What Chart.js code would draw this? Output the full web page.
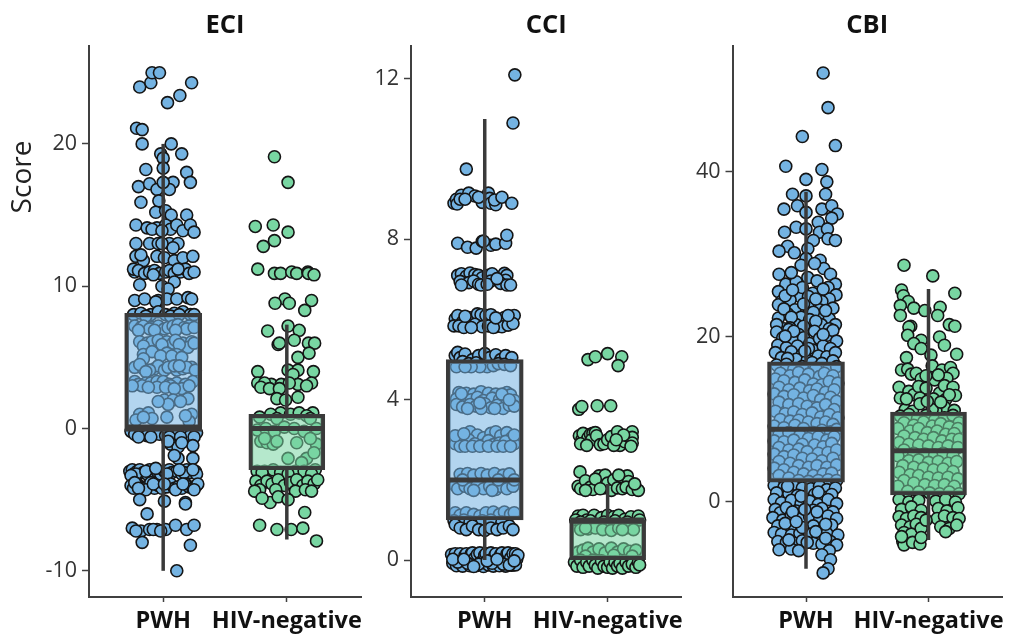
<!DOCTYPE html>
<html><head><meta charset="utf-8">
<script src="https://cdn.jsdelivr.net/npm/chart.js@4/dist/chart.umd.js"></script>
<style>html,body{margin:0;padding:0;background:#fff;width:1011px;height:637px;overflow:hidden}canvas{position:absolute;top:0}</style>
</head><body>
<canvas id="c1" style="left:0" width="370" height="637"></canvas>
<canvas id="c2" style="left:370px" width="320" height="637"></canvas>
<canvas id="c3" style="left:690px" width="321" height="637"></canvas>
<script>
const categories=["PWH","HIV-negative"];
const panelTitles=["ECI","CCI","CBI"];
const yAxisTitle="Score";
const eciTicks=[-10,0,10,20];
const cciTicks=[0,4,8,12];
const cbiTicks=[0,20,40];
// box statistics: low whisker, q1, median, q3, high whisker
const eciBoxPWH=[-10,-0.2,0.1,8.1,20];
const eciBoxNeg=[-7.8,-2.9,0,1,7.3];
const cciBoxPWH=[0,1,2,5,11];
const cciBoxNeg=[0,0,1,1,1.9];
const cbiBoxPWH=[-8.1,2.4,8.8,17,37.6];
const cbiBoxNeg=[-4.6,0.85,6.2,10.9,25.8];
// points: [horizontal jitter, score]
const eciPWH=[[-19,24],[-10,24.3],[-9,25],[-3,25],[23,24.3],[13.5,23.4],[3.5,22.9],[-21.5,21.1],[-17,21],[-17,20],[6.5,20],[15,19.3],[-2,19.3],[0,19],[-14,18.2],[0,18.3],[19,18],[22,17.3],[-20,17],[-11,17.2],[8,17.3],[5,16.8],[-5,16.8],[0,17.3],[-18,15.9],[-3.5,16],[-6,15.2],[2,15.3],[6.5,15],[19,15],
[-22,14.3],[-13,14.1],[-5,14.1],[2,14.3],[6,14],[11,14.3],[16,13.9],[22,14.3],[25,13.8],[-9,14],[-1,13.9],
[-22,13],[-11,13],[-4,13],[5,13],[12,13],[8,12.7],[-1,13],
[-22,12.1],[-16,11.8],[-5,12.1],[1,12],[9,11.8],[16,12],[24,12.1],[-18,12.2],
[-23,11],[-24,11.2],[-20,11.1],[-15,10.9],[-11,11],[-7,11.1],[-3,10.9],[2,11],[5,11.1],[9,10.9],[14,11],[18,11.2],[21,10.9],[25,11],[-8,10.8],[12,11.2],
[-19,10.1],[9,10.3],[-1,10],[4,9.8],
[-23,9],[-15,9.1],[-4,9],[3,9.1],[11,9.1],[20,9.2],[23,9.1],[-6,8.9],
[-24,8],[-18,8.1],[-10,8],[-4,8.2],[2,8],[9,8.1],[16,8.2],[22,8],[-14,7.9],[6,7.9],[13,8],[25,8],
[-23,7.2],[-18,7.1],[-16,7.2],[-9,7.1],[-4,7.2],[1,7],[4,7.1],[8,7.2],[12,7.3],[17,7.1],[21,7.2],[-11,7],[19,7],[25,7.1],[-20,6.9],[-7,6.9],[10,6.9],
[-19,6.1],[-13,6],[-9,6.1],[-4,6.2],[3,6.1],[8,6],[16,6],[23,6.1],[-16,5.8],[20,5.7],[10,6.2],[25,6],[-1,5.9],[13,5.9],
[-16,5.2],[3,5.3],[11,5.2],[-9,5.4],[-2,5.1],[-16,4.9],[7,5.1],[15,5],
[-23,4.3],[-16,4.2],[-7,4.2],[-4,4.4],[1,4.1],[4,4.3],[11,4.1],[16,4.2],[23,4.3],[-11,4.1],[-19,4.5],[9,4.4],[19,4.3],[-14,4],[13,4.4],[26,4.1],
[-23,3.3],[-20,3.1],[-14,3.2],[-10,3.2],[-5,3.3],[0,3.3],[5,3.1],[11,3.2],[24,3.3],[-17,3],[6,3],[18,3.1],[-5,2.9],[15,2.8],[21,3],[-25,3],[-12,2.9],[2,2.9],[9,2.8],
[1,2],[8,2],[20,2.1],[4,1.7],[-4,1.9],[14,1.9],
[-19,1],[-12,1.1],[3,0.8],[23,1],[-22,0.6],[-9,0.7],[21,0.5],[-16,0.8],[18,0.9],
[-26,-0.2],[-23,-0.4],[-18,-0.3],[-13,-0.5],[-8,-0.3],[-3,-0.4],[2,-0.5],[7,-0.3],[12,-0.4],[17,-0.3],[22,-0.5],[27,-0.3],[-20,-0.6],[-10,-0.6],[5,-0.6],[14,-0.6],[25,-0.6],
[6,-1.1],[12,-1.3],[24,-1.2],[4,-0.9],[15,-1],
[12,-2.1],[24,-2.1],[9,-1.9],
[-27,-3],[-25,-2.9],[-24,-3.2],[-21,-3],[-19,-2.9],[-16,-3.1],[-13,-3.2],[-11,-2.9],[-8,-3.1],[-5,-3],[-2,-3.2],[1,-3],[5,-2.9],[7,-3.1],[11,-3],[15,-3.2],[19,-2.9],[22,-3.1],[26,-3],[27,-3.2],[-22,-3.2],[3,-3.2],[17,-3.1],[-26,-3.3],[-14,-3],[-6,-2.8],[13,-2.9],[24,-2.9],
[-26,-4],[-24,-4.2],[-21,-3.9],[-18,-4.1],[-16,-4.2],[-12,-4],[-10,-3.8],[-7,-4.2],[-4,-4],[-1,-4.2],[3,-4.1],[6,-3.9],[9,-4.2],[12,-4.1],[15,-4.2],[18,-3.9],[21,-4.1],[24,-4.2],[27,-4],[28,-3.9],[-14,-4.3],[10,-4.3],[-23,-3.8],[-20,-4.2],[-8,-3.9],[1,-3.9],[16,-3.9],[25,-4.3],
[-19,-5],[1,-5.1],[18,-5.2],[18,-5.3],
[-13,-6],
[-25,-7],[-18,-7.2],[-11,-7.1],[-5,-7.1],[2,-7.1],[10,-6.8],[19,-7.1],[25,-6.8],[-22,-7.2],[-8,-7.1],[-2,-7.2],
[-17,-8],[22,-8.2],
[11,-10]];
const eciNeg=[[-10,19.1],[1,17.3],[-25.5,14.2],[-11,14.3],[1,13.8],[-10,13.2],[-19,12.8],[-23.5,11.2],[-10,10.9],[-5,10.9],[4,11],[8,10.9],[17,11],[17.5,10.9],[22,10.8],[-1.5,9.1],[-9.5,8.8],[2,8.8],[20,9],[14.5,8.3],
[-15.5,6.85],[1,7.2],[10,6.9],[6,6.2],[-7,5.9],[-6,6],[17.5,6],[22.5,6],[9,5],[18,5.3],
[-23.5,4],[1,4.1],[9,4.1],[5,3.8],[21.5,4],[-23.5,3.2],[-12.5,3.1],[-4.5,3.1],[9,3.1],[20,3.2],[-18,3.2],[2,3.2],[-21,2.9],[-14,2.8],[-6,2.8],[16,3],[-8,2.1],[9,2.2],[-1,2],
[-5,1.1],[3,1],[10,1.1],[21,1.1],[16,0.9],[-13,1],[-22,0.8],[-8,0.7],[19,0.7],
[-24,-0.1],[-17,0],[-10,-0.2],[-2,0.1],[6,0],[14,-0.2],[24,0],
[-21,-0.9],[-16,-1],[-11,-1.1],[8,-1],[24,-1.1],[-18,-0.7],[-8,-0.9],[19,-0.7],
[1,-2.1],[16,-2.1],[12,-2.4],[22,-1.7],
[-24,-3],[-18,-3],[-11,-2.9],[-5,-3.1],[7,-3],[14,-3],[23,-2.9],[-20,-3.1],[1,-3.2],[20,-3.2],
[-25,-3.7],[-21,-4],[-16,-3.7],[-12,-3.9],[-7,-3.6],[-2,-4],[3,-3.8],[8,-3.6],[13,-4],[17,-3.7],[22,-3.9],[25,-3.6],[-22,-4.3],[-9,-4.3],[7,-4.4],[15,-4.3],[20,-4.4],[-26,-4.4],
[-13.5,-5.2],[-7,-4.8],[1,-5],[-20,-4.9],[14.5,-5.9],[-22,-6.8],[-8,-7.1],[3.5,-7.1],[13,-7],[24,-7.9]];
const cciPWH=[[24.5,12.1],[23,10.9],[-15,9.75],
[-25,8.9],[-23,9],[-22.5,8.88],[-19,9.1],[-13,9.15],[-8,9.08],[-2,8.92],[3,9.15],[4,9.02],[5,8.9],[9,8.86],[8,8.98],[14,9.05],[22,8.9],[-20,9],[-16,9],[-5,9.05],
[-22,7.9],[-14,7.8],[-7,7.78],[-2,7.95],[5,7.85],[9,7.88],[17,7.9],[18,8.1],[-1,7.95],
[-22,7.1],[-19,7.14],[-15,7.08],[-12,7.16],[-8,7.12],[-5,7.1],[-2,7.04],[3,7.1],[6,7.14],[5,6.96],[16,7.15],[18,7.1],[17,6.98],[-20,6.95],[-13,6.92],[-9,6.96],[-5,6.88],[-3,6.86],[2,6.88],[13,6.9],[18,6.86],[21,6.86],[-19,6.86],[10,7.02],
[-24,6.02],[-22,6.1],[-18,5.94],[-13,6.05],[-9,5.98],[-6,6.14],[-3,6.12],[1,6.1],[5,6.12],[12,5.95],[16,6.05],[22,6],[24,6.1],[-25,5.84],[-21,5.84],[-14,5.86],[-8,5.88],[-2,5.82],[3,5.84],[9,5.82],[14,5.82],[19,5.86],[23,5.9],[-17,5.8],[-11,5.8],[7,5.8],[-16,6.08],[9,6.04],[19,6.1],
[-24,5.1],[-22,5.18],[-20,5.05],[-16,5.14],[-10,5],[-5,5.1],[0,5.15],[4,5.05],[9,5.12],[13,5],[17,5.1],[22,5.05],[-18,4.95],[-13,4.9],[-7,4.92],[-2,4.85],[2,4.82],[7,4.85],[11,4.9],[16,4.88],[21,4.85],[-23,4.82],[-4,4.82],[-11,4.82],[-16,4.82],
[-21,4.18],[-15,4.16],[-9,4.14],[-3,4.2],[3,4.16],[9,4.14],[18,4.18],[21,4.12],[-23,4.02],[-17,4.04],[-11,4],[-6,4.06],[-1,3.98],[6,4.04],[12,4],[16,4.03],[24,3.98],[-23,3.88],[-18,3.82],[-12,3.88],[-7,3.84],[0,3.9],[5,3.8],[10,3.86],[15,3.78],[20,3.86],[-14,3.78],[-3,3.78],[8,3.78],[24,3.84],[-19,4.15],[14,4.14],[20,4],[-4,3.92],
[-23,3.05],[-12,3.2],[-6,3.12],[-1,3.05],[5,3.16],[9,3.2],[13,3.1],[18,3.18],[22,3.05],[-24,2.9],[-18,2.98],[-13,3],[-8,2.9],[-2,2.86],[3,2.98],[7,2.88],[12,2.92],[17,2.96],[24,2.9],[-20,2.84],[-16,2.84],[-10,2.84],[-4,2.84],[3,2.84],[10,2.84],[15,2.84],[21,2.84],[-24,3.1],[-17,3.15],[24,3.12],
[-20,2.14],[-14,2.16],[-9,2.12],[-3,2.16],[2,2.12],[8,2.16],[15,2.12],[20,2.15],[-24,1.86],[-22,1.78],[-16,1.84],[-12,1.78],[-6,1.88],[-1,1.78],[4,1.84],[9,1.76],[13,1.84],[18,1.78],[23,1.84],[-9,1.74],[6,1.74],[-18,2],[11,2],[24,2],
[-24,1.18],[-20,1.12],[-15,1.18],[-9,1.14],[-4,1.1],[1,1.18],[7,1.2],[12,1.14],[16,1.2],[21,1.14],[24,1.18],[-25,0.98],[-17,1],[-12,0.95],[-2,0.98],[5,1],[14,0.95],[-24,0.88],[-20,0.8],[-15,0.76],[-10,0.85],[-5,0.76],[0,0.74],[5,0.8],[10,0.76],[15,0.8],[20,0.85],[23,0.76],
[-27,0.14],[-25,0.05],[-26,-0.08],[-24,0.16],[-23,-0.14],[-21,0.08],[-20,0.16],[-19,-0.05],[-18,-0.15],[-16,0.12],[-15,0.16],[-13,0],[-12,-0.14],[-11,0.16],[-10,0.18],[-8,0.05],[-7,-0.14],[-6,0.14],[-4,0.18],[-3,-0.05],[-1,-0.16],[0,0.12],[1,0.16],[3,-0.12],[4,0.05],[5,0.18],[7,-0.15],[8,0.1],[9,0.16],[11,-0.05],[12,-0.14],[13,0.14],[14,0.18],[16,0],[17,-0.15],[18,0.15],[19,0.18],[21,0.05],[22,-0.13],[23,0.16],[25,0.16],[26,0.02],[27,0.12],[25,-0.12],[-22,-0.05],[-14,-0.08],[-5,-0.1],[6,-0.08],[15,-0.1],[20,-0.12],[-26,0.02],[-17,0.02],[-9,-0.16],[2,-0.02],[10,0.02],[24,-0.02]];
const cciNeg=[[-16,5],[-10,5.07],[0,5.15],[11.5,5.07],[8.5,4.85],[-23.5,3.76],[-21,3.83],[-8.5,3.85],[2.5,3.85],
[-23,3.1],[-21,3],[-20,3.16],[-18,2.95],[-16,3.05],[-14,3.14],[-12,3.16],[-13,3],[-10,3.18],[-9,3.1],[-6,2.88],[-3,2.9],[0,3],[3,3.08],[8,3.2],[9,2.92],[10,2.86],[14,2.95],[16,3.1],[20,3.2],[20,3.06],[20,2.92],[13,3.12],[5,2.86],[19,2.84],[-22,2.9],[-17,2.86],[7,3],
[-22.5,2.2],[-24,1.84],[-22,1.78],[-18,1.98],[-14,1.82],[-12,1.76],[-7,2.1],[-5,2],[-3,1.8],[-2,2.12],[0,1.92],[3,1.74],[5,2],[8,1.8],[11,2.08],[12,1.78],[16,2.1],[17,1.96],[15,1.82],[20,1.76],[25,1.74],[-18,1.74],[-10,2.02],[-6,1.78],[9,2.12],[22,1.9],
[-24,1.1],[-20,1.12],[-17,1],[-11,1.12],[-5,1.06],[0,1.12],[5,1.08],[9,1.12],[14,1.02],[19,1.08],[25,1.1],[26,1],[-26,1],[-22,0.95],[-14,0.98],[-3,0.95],[6,0.98],[16,0.95],
[-22,0.76],[-16,0.78],[-10,0.8],[-4,0.76],[3,0.74],[9,0.8],[15,0.8],[21,0.76],[-18,0.8],[12,0.76],
[-24,0.2],[-20,0.25],[-16,0.3],[-12,0.2],[-7,0.28],[-2,0.18],[3,0.3],[8,0.2],[13,0.28],[18,0.22],[23,0.25],[-18,0.1],[5,0.12],[20,0.1],
[-27,-0.05],[-25,-0.15],[-22,0],[-20,-0.18],[-17,-0.05],[-15,-0.15],[-12,0],[-10,-0.12],[-8,-0.2],[-5,-0.02],[-3,-0.15],[0,-0.18],[2,-0.05],[4,-0.2],[6,-0.05],[8,-0.15],[10,-0.08],[12,-0.2],[15,-0.05],[17,-0.15],[20,-0.1],[23,-0.18],[25,-0.05],[26,-0.12]];
const cbiPWH=[[14,52],[18,47.8],[-3,44.3],[24,43.2],[-16.5,40.7],[13,40.3],[0,39.1],[17,38.8],[-11,37.3],[0,37.1],[16,37.3],[-7,35.9],[-18,35.5],[0,35.1],[13,35.5],[21,35.9],[25.5,34.9],[21,34.4],[10,33.9],[-8,33.3],[0,33.1],[-17.5,32.7],[11,32.7],[17.5,33.1],[6,31.7],[18,31.9],[24,31.7],[-15,31],[-22,30.4],[-9.5,30.2],[1.5,30.7],[0,29.5],[11.5,29.3],[-4,28.7],[14.5,28.3],[7,28.9],[-22,27.6],[20,27.6],[1.5,27.2],[-16.5,26.4],[-8,26.7],[24,26.4],[18,26],[-22.5,25.5],[5.5,25.3],[24.5,25.1],[-20,24.3],[-5,24.9],[19,24.6],[13,24.3],[-22.5,23.9],[-13,24.5],[22,23.5],[-9,23.3],[1.5,23.7],[11,23.3],[-15,22.8],[-22.5,22.3],[12.5,22.5],[-4,22.4],[19,22.2],[-18,21],[-8,21.5],[12.5,21.5],[24,21.5],[4,21],
[-12,27.8],[-3,26],[9,26.8],[14,25.8],[-17,25],[-11,25.7],[2,24.9],[8,24.6],[-2,24],[-18,23.4],[6,23],[16,23.2],[-12,22.4],[3,22.1],[8,21.9],[-24,21.5],[-13,21.1],[-2,21.3],[19,21],
[-24,20.6],[-14,20.9],[-6,20.3],[7,20.7],[17,20.2],[22,20.8],[-19,19.9],[-11,19.6],[-2,19.9],[3,19.2],[11,19.8],[25,19.5],[-23,19],[-16,18.7],[-7,18.9],[6,18.4],[14,18.9],[20,18.6],[-25,18.1],[-12,18.2],[-3,17.9],[10,17.7],[17,17.6],[24,18.1],[-20,17.5],[-8,17.3],[1,17.2],[5,16.9],[13,16.8],[22,17.1],[-15,17.4],[2,18.6],[-10,20.7],[14,20.3],[-17,20.1],[-1,18.3],
[-24,16.6],[-16,16.7],[-10,16.1],[-3,16.4],[8,16.2],[18,16],[25,16.4],[-21,15.6],[-13,15.3],[-6,15.7],[2,15.5],[11,15.2],[15,15.6],[22,15.3],[-25,14.9],[-18,14.7],[-9,14.5],[-1,14.8],[6,14.3],[13,14.2],[19,14.6],[26,14.4],[-22,13.9],[-14,13.6],[-5,13.8],[3,13.5],[9,13.7],[16,13.3],[23,13.6],[-26,13.1],[-18,12.8],[-10,13],[-2,12.6],[6,12.9],[12,12.4],[20,12.7],[25,12.2],[-22,12.1],[-14,11.8],[-6,11.9],[1,11.6],[9,11.4],[16,11.8],[23,11.2],[-25,11],[-17,10.7],[-10,10.9],[-3,10.6],[5,10.8],[12,10.3],[19,10.6],[26,10.2],[-21,10],[-13,9.8],[-6,9.9],[2,9.7],[9,9.5],[16,9.7],[22,9.4],[-26,9.2],[-18,9],[-9,9.3],[-2,8.9],[6,8.4],[13,8.7],[20,8.5],[25,8.8],[-22,8.2],[-14,8.4],[-5,8.1],[2,7.7],[10,7.9],[17,7.5],[23,7.9],[-26,7.4],[-18,7.3],[-10,7.5],[-3,7],[7,6.9],[14,6.7],[21,7.1],[-22,6.6],[-14,6.3],[-6,6.4],[1,6.1],[10,5.9],[18,6],[25,6.3],[-26,5.8],[-18,5.5],[-10,5.7],[-3,5.3],[5,5.2],[13,5],[22,5.3],[-22,4.9],[-13,4.7],[-6,4.4],[2,4.2],[9,4.4],[17,4.2],[25,4.5],[-26,4.1],[-18,3.9],[-10,3.6],[-2,3.4],[6,3.2],[14,3.4],[21,3.5],[-22,3.2],[-14,2.9],[-6,2.6],[2,2.5],[10,2.6],[18,2.7],[25,2.6],
[-26,2],[-18,1.8],[-10,1.9],[-3,1.7],[4,1.6],[11,1.9],[17,1.5],[24,1.7],[-24,1.1],[-14,1],[-7,0.8],[7,0.9],[14,0.6],[21,0.9],[-26,0.3],[-20,-0.1],[-12,0.2],[-4,-0.2],[3,0.1],[10,-0.3],[18,0.3],[25,-0.2],[-25,-0.9],[-21,-1.3],[-16,-0.7],[-8,-1.1],[6,-1],[13,-0.8],[22,-1.2],[-27,-1.9],[-19,-2.2],[-12,-1.6],[-5,-2.1],[3,-1.8],[11,-2.2],[18,-1.7],[25,-2],[-23,-2.9],[-15,-3],[-9,-3.2],[6,-2.9],[14,-3.3],[21,-2.8],[-26,-3.7],[-20,-3.9],[-12,-4],[-5,-3.8],[3,-3.9],[10,-4.2],[17,-3.8],[26,-4],[-23,-4.8],[-16,-4.9],[-9,-5],[-3,-4.7],[6,-5],[13,-5.1],[20,-4.8],[25,-5.2],[-22,-5.8],[-12,-5.7],[-6,-5.9],[19,-5.9],[13,-6.4],[20,-7],[18,-8.1],[14,-8.6],
[-15,1.9],[-4,0.7],[10,1.2],[-17,-2.6],[-3,-3.1],[9,-1.2],[-11,-1.2],[-1,-0.9],[16,-2.7],[-8,-2.4],[8,-3.6],[-14,-4.6],[16,-4.4],[1,-4.9]];
const cbiNeg=[[-20,28.7],[3.5,27.4],[21.5,25.3],[-22,25.7],[-20.5,25],[-16.5,24.3],[-23,23.8],[-12,23.5],[-3,23.2],[9.5,23.6],[-23,22.6],[7.5,22.6],[-14.5,21.3],[17,21.5],[21.5,21.3],
[-16,21.2],[-17,20.2],[-6,19.6],[-12,19.2],[-6,18.6],[9,20],[13,19],[-18,17.5],[23,17.9],[2,17.8],[-22,16],[-17,16.1],[-14,15.5],[-10,15.6],[-6,14.9],[3,16.5],[11,16],[18,16.3],[5,14.8],[20,15.6],[15,15],[8,15.4],[-2,15.3],
[-24,13.9],[-16,13.4],[-12,13],[-8,14],[-2,13.8],[9,13.2],[13,14.1],[20,13.9],[-23,12.6],[-7,12.6],[4,12.5],[14,12.4],[22,12.9],[-19,11.2],[-13,11],[13,11.5],[21,11.1],[6,11.1],[-7,11.9],[3,11.2],[-18,12.5],[-1,12.2],[17,13],[10,12.1],
[-23,10.4],[-16,10.6],[-9,10.1],[-2,10.5],[5,9.9],[13,10.2],[20,10.5],[25,9.6],[-20,9.6],[-12,9.3],[-4,9.7],[3,9.2],[10,9.5],[17,9.1],[24,8.9],[-25,8.9],[-15,8.6],[-8,8.9],[-1,8.4],[7,8.6],[14,8.2],[21,8.3],[-20,8],[-11,7.8],[-4,7.6],[4,7.8],[11,7.4],[19,7.6],[25,7.6],[-24,7.2],[-16,7],[-8,6.9],[0,6.8],[8,6.6],[16,6.8],[24,6.6],[-20,6.3],[-12,5.9],[-3,5.8],[5,5.7],[12,5.9],[20,5.6],[-25,5.6],[-16,5],[-8,5.1],[0,4.8],[8,4.9],[16,4.7],[23,4.9],[-21,4.4],[-12,4.2],[-4,4.1],[4,3.9],[12,4],[20,3.7],[-24,3.6],[-15,3.3],[-8,3.2],[0,3],[8,2.9],[16,3],[24,2.8],[-20,2.6],[-12,2.3],[-3,2.1],[5,2],[13,2.1],[21,1.9],[-25,1.9],[-17,1.3],[-8,1.2],[1,1.1],[9,1],[17,1.2],[25,1],
[-24,0.3],[-16,0],[-8,0.2],[6,0.1],[14,0.3],[22,0],[-22,-0.9],[-14,-0.6],[-6,-1],[8,-0.8],[15,-1.1],[24,-0.7],[-24,-1.8],[-18,-2],[-12,-1.7],[-6,-1.9],[7,-2],[13,-1.7],[20,-1.9],[25,-2],[-22,-2.8],[-15,-3],[-10,-2.7],[10,-3],[17,-3.2],[23,-2.8],[-20,-3.7],[-14,-3.9],[14,-3.6],[-6,-3.2],[-2,-2.2],[-21,-4.8],[-20,-5.2],[-13,-4.9],[-7,-5.1],[-6,-4.3],[-22,-4.2]];

const BLUE='#74b3e2',GREEN='#78d6a2',DARK='#3a3a3a',AXIS='#404040';
const BLUEBOX='rgba(116,179,226,.55)',GREENBOX='rgba(120,214,162,.55)';
const FONT='"Open Sans"';
function pts(list,c){return list.map(([d,y])=>({x:c+d,y}));}
function marks(list,c,col){return {type:'scatter',data:pts(list,c),backgroundColor:col,borderColor:'#151515',borderWidth:1.6,pointRadius:6,pointHoverRadius:6,order:5};}
function seg(data,w,order){return {type:'scatter',data,showLine:true,borderColor:DARK,borderWidth:w,pointRadius:0,borderCapStyle:'butt',order};}
function box(b,c,fill,thick){const [lo,q1,med,q3,hi]=b;return [
 seg([{x:c,y:lo},{x:c,y:q1}],3.5,4),
 seg([{x:c,y:q3},{x:c,y:hi}],3.5,4),
 {type:'bar',data:[{x:c,y:[q1,q3]}],backgroundColor:fill,borderColor:DARK,borderWidth:4,borderSkipped:false,barThickness:thick,grouped:false,order:3},
 seg([{x:c-30,y:med},{x:c+30,y:med}],5,2)];}
const scorePlugin={id:'score',afterDraw(ch){const g=ch.ctx;g.save();g.translate(23,177);g.rotate(-Math.PI/2);g.font='28px '+FONT;g.fillStyle='#222';g.textAlign='center';g.textBaseline='middle';g.fillText(yAxisTitle,0,0);g.restore();}};
function panel(id,title,ticks,ymin,ymax,pw,nw,pb,nb,leftW,rightPad,withScore){
 new Chart(document.getElementById(id),{
  type:'scatter',
  data:{datasets:[marks(pw,100,BLUE),marks(nw,200,GREEN),...box(pb,100,BLUEBOX,77),...box(nb,200,GREENBOX,76)]},
  plugins:withScore?[scorePlugin]:[],
  options:{responsive:false,animation:false,
   layout:{padding:{left:0,right:rightPad,top:0,bottom:0}},
   plugins:{legend:{display:false},tooltip:{enabled:false},
    title:{display:true,text:title,fullSize:false,color:'#111',font:{family:FONT,size:25.5,weight:'bold',lineHeight:'26px'},padding:{top:13,bottom:7}}},
   scales:{
    x:{type:'linear',min:40,max:260,offset:false,afterBuildTicks:s=>{s.ticks=[{value:100},{value:200}];},afterFit:s=>{s.height=40;},
     grid:{display:true,offset:false,drawOnChartArea:false,drawTicks:true,tickLength:5,tickColor:AXIS,tickWidth:1.5},
     border:{display:true,color:AXIS,width:2},
     ticks:{autoSkip:false,maxRotation:0,minRotation:0,padding:5,color:'#111',font:{family:FONT,size:23.5,weight:'bold'},callback:v=>categories[v/100-1]}},
    y:{type:'linear',min:ymin,max:ymax,afterBuildTicks:s=>{s.ticks=ticks.map(value=>({value}));},afterFit:s=>{s.width=leftW;},
     grid:{display:true,drawOnChartArea:false,drawTicks:true,tickLength:7,tickColor:AXIS,tickWidth:1.5},
     border:{display:true,color:AXIS,width:2},
     ticks:{padding:5,color:'#333',font:{family:FONT,size:21.5},callback:v=>String(v)}}
   }}});
}
panel('c1',panelTitles[0],eciTicks,-11.84,26.88,eciPWH,eciNeg,eciBoxPWH,eciBoxNeg,89,9,true);
panel('c2',panelTitles[1],cciTicks,-0.92,12.82,cciPWH,cciNeg,cciBoxPWH,cciBoxNeg,41,8,false);
panel('c3',panelTitles[2],cbiTicks,-11.52,55.27,cbiPWH,cbiNeg,cbiBoxPWH,cbiBoxNeg,42.5,9,false);
</script>
</body></html>
